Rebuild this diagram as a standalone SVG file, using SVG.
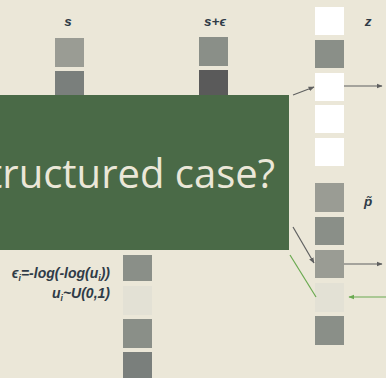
<svg xmlns="http://www.w3.org/2000/svg" width="386" height="378" viewBox="0 0 386 378">
<defs>
<style>
.lbl{font-family:"Liberation Sans",Arial,sans-serif;font-weight:bold;font-style:italic;fill:#2f3b47}
.w{fill:#ffffff}
.g1{fill:#9a9c94}
.g2{fill:#8a8f88}
.g3{fill:#7a7f7c}
.d{fill:#5a5a5a}
.l{fill:#e3e1d5}
.dark{stroke:#5f6060;stroke-width:1.2;fill:none}
.grn{stroke:#6aaa50;stroke-width:1.2;fill:none}
</style>
<marker id="ah" viewBox="0 0 10 10" refX="9" refY="5" markerWidth="5" markerHeight="5" orient="auto"><path d="M0,1 L10,5 L0,9 z" fill="#5f6060"/></marker>
<marker id="ahg" viewBox="0 0 10 10" refX="9" refY="5" markerWidth="5" markerHeight="5" orient="auto"><path d="M0,1 L10,5 L0,9 z" fill="#6aaa50"/></marker>
</defs>
<rect width="386" height="378" fill="#ebe7d8"/>
<g id="col-s">
<text class="lbl" x="68" y="26" text-anchor="middle" font-size="13.5">s</text>
<rect class="g1" x="55" y="38" width="29" height="29"/>
<rect class="g3" x="55" y="71" width="29" height="29"/>
</g>
<g id="col-se">
<text class="lbl" x="215" y="26" text-anchor="middle" font-size="13.5">s+ϵ</text>
<rect class="g2" x="199" y="37" width="29" height="29"/>
<rect class="d" x="199" y="70" width="29" height="29"/>
</g>
<g id="col-z">
<text class="lbl" x="368" y="26" text-anchor="middle" font-size="13.5">z</text>
<rect class="w" x="315" y="7" width="29" height="28"/>
<rect class="g2" x="315" y="40" width="29" height="28"/>
<rect class="w" x="315" y="73" width="29" height="28"/>
<rect class="w" x="315" y="105" width="29" height="28"/>
<rect class="w" x="315" y="138" width="29" height="28"/>
</g>
<g id="col-p">
<text class="lbl" x="368" y="206" text-anchor="middle" font-size="13.5">p̃</text>
<rect class="g1" x="315" y="183" width="29" height="29"/>
<rect class="g2" x="315" y="217" width="29" height="28"/>
<rect class="g1" x="315" y="250" width="29" height="28"/>
<rect class="l" x="315" y="283" width="29" height="29"/>
<rect class="g2" x="315" y="316" width="29" height="29"/>
</g>
<g id="col-eps">
<rect class="g2" x="123" y="255" width="29" height="26"/>
<rect class="l" x="123" y="286" width="29" height="29"/>
<rect class="g2" x="123" y="319" width="29" height="29"/>
<rect class="g3" x="123" y="352" width="29" height="29"/>
</g>
<g id="formula">
<text class="lbl" x="110" y="278" text-anchor="end" font-size="14">ϵ<tspan font-size="8.5" dy="3">i</tspan><tspan dy="-3">=-log(-log(u</tspan><tspan font-size="8.5" dy="3">i</tspan><tspan dy="-3">))</tspan></text>
<text class="lbl" x="110" y="298" text-anchor="end" font-size="14">u<tspan font-size="8.5" dy="3">i</tspan><tspan dy="-3">~U(0,1)</tspan></text>
</g>
<g id="connectors">
<line class="dark" x1="293" y1="95" x2="314" y2="87" marker-end="url(#ah)"/>
<line class="dark" x1="344" y1="86" x2="382" y2="86" marker-end="url(#ah)"/>
<line class="dark" x1="293" y1="227" x2="314" y2="263" marker-end="url(#ah)"/>
<line class="dark" x1="344" y1="264" x2="382" y2="264" marker-end="url(#ah)"/>
<line class="grn" x1="290" y1="255" x2="316" y2="297"/>
<line class="grn" x1="386" y1="297" x2="349" y2="297" marker-end="url(#ahg)"/>
</g>
<g id="overlay">
<rect x="0" y="95" width="289" height="155" fill="#4a6a47"/>
<text x="275" y="188" text-anchor="end" font-family="'Open Sans','Noto Sans',sans-serif" font-size="40" fill="#ebe7d8">tructured case?</text>
</g>
</svg>
